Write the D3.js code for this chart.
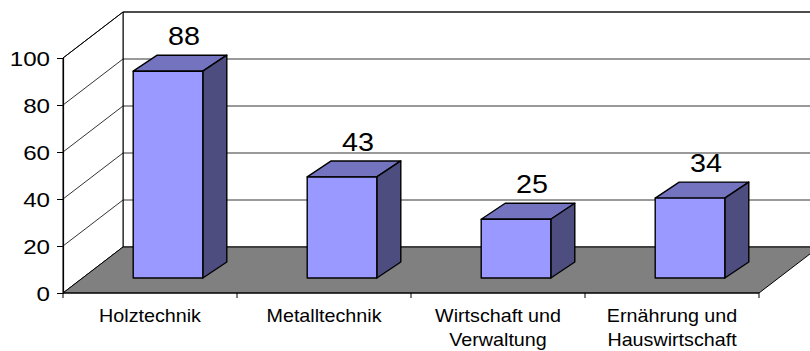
<!DOCTYPE html>
<html>
<head>
<meta charset="utf-8">
<script src="https://cdn.jsdelivr.net/npm/d3@7"></script>
<style>
  html, body { margin: 0; padding: 0; background: #fff; }
  svg { display: block; }
  text { font-family: "Liberation Sans", Arial, sans-serif; fill: #000; }
</style>
</head>
<body>
<svg id="chart" width="810" height="351"></svg>
<script>
// Data
const categories = ["Holztechnik", "Metalltechnik", "Wirtschaft und Verwaltung", "Ernährung und Hauswirtschaft"];
const values = [88, 43, 25, 34];
const yTicks = [0, 20, 40, 60, 80, 100];

const W = 810, H = 351;
const svg = d3.select("#chart");

// Oblique 3D layout: front plane scales plus depth offsets
const x = d3.scaleBand().domain(categories).range([63, 759]).paddingInner(0).paddingOuter(0);
const y = d3.scaleLinear().domain([0, 100]).range([293, 58]);
const wallDepth = [60, -46];   // front edge -> back wall
const barFront = [18, -15];    // front face of the bars inside the floor
const barDepth = [24, -16];    // thickness of each bar
const barFrac = 0.4;
const textStretch = 1.15;

const x0 = x.range()[0], x1 = x.range()[1];
const yMin = y(0), yMax = y(100);
const pt = p => p.join(",");
const poly = pts => pts.map(pt).join(" ");

// Back wall
svg.append("polygon")
  .attr("points", poly([[x0 + wallDepth[0], yMax + wallDepth[1]], [x1 + wallDepth[0], yMax + wallDepth[1]],
                        [x1 + wallDepth[0], yMin + wallDepth[1]], [x0 + wallDepth[0], yMin + wallDepth[1]]]))
  .attr("fill", "#fff").attr("stroke", "#000").attr("stroke-width", 1);

// Left wall
svg.append("polygon")
  .attr("points", poly([[x0, yMax], [x0 + wallDepth[0], yMax + wallDepth[1]],
                        [x0 + wallDepth[0], yMin + wallDepth[1]], [x0, yMin]]))
  .attr("fill", "#fff").attr("stroke", "#000").attr("stroke-width", 1);

// Gridlines on back and left walls
const grid = svg.append("g").attr("stroke", "#000").attr("stroke-width", 0.8);
yTicks.filter(v => v > 0).forEach(v => {
  const yb = y(v) + wallDepth[1];
  grid.append("line")
    .attr("x1", x0 + wallDepth[0]).attr("x2", W + 20)
    .attr("y1", yb).attr("y2", yb);
  grid.append("line")
    .attr("x1", x0).attr("y1", y(v))
    .attr("x2", x0 + wallDepth[0]).attr("y2", yb);
});

// Floor
svg.append("polygon")
  .attr("points", poly([[x0, yMin], [x1, yMin], [x1 + wallDepth[0], yMin + wallDepth[1]], [x0 + wallDepth[0], yMin + wallDepth[1]]]))
  .attr("fill", "#808080").attr("stroke", "#000").attr("stroke-width", 1);

// Bars
const bars = svg.append("g").attr("stroke", "#000").attr("stroke-width", 1.4).attr("stroke-linejoin", "round");
categories.forEach((c, i) => {
  const v = values[i];
  const bw = x.bandwidth() * barFrac;
  const cx = x(c) + x.bandwidth() / 2 + barFront[0];
  const l = cx - bw / 2, r = cx + bw / 2;
  const b = y(0) + barFront[1], t = y(v) + barFront[1];
  const [dx, dy] = barDepth;
  // top
  bars.append("polygon").attr("fill", "#7373BF")
    .attr("points", poly([[l, t], [l + dx, t + dy], [r + dx, t + dy], [r, t]]));
  // side
  bars.append("polygon").attr("fill", "#4D4D80")
    .attr("points", poly([[r, t], [r + dx, t + dy], [r + dx, b + dy], [r, b]]));
  // front
  bars.append("rect").attr("fill", "#9999FF")
    .attr("x", l).attr("y", t).attr("width", bw).attr("height", b - t);

  // value label above the bar
  svg.append("text")
    .attr("transform", `translate(${x(c) + x.bandwidth() / 2 + 34},${y(v) - 41}) scale(${textStretch},1)`)
    .attr("text-anchor", "middle")
    .attr("font-size", 25)
    .text(v);
});

// Value axis
const yAxis = svg.append("g").attr("transform", `translate(${x0},0)`)
  .call(d3.axisLeft(y).tickValues(yTicks).tickSize(6).tickPadding(0));
yAxis.select(".domain").attr("stroke", "#000").attr("stroke-width", 1.2);
yAxis.selectAll(".tick line").attr("stroke", "#000");
yAxis.selectAll(".tick text")
  .attr("font-family", "'Liberation Sans', Arial, sans-serif")
  .attr("font-size", 21)
  .attr("fill", "#000")
  .attr("x", -13 / textStretch)
  .attr("dy", "0.36em")
  .attr("transform", `scale(${textStretch},1)`);

// Category axis
const xa = svg.append("g");
xa.append("line")
  .attr("x1", x0).attr("x2", x1).attr("y1", yMin).attr("y2", yMin)
  .attr("stroke", "#000").attr("stroke-width", 1.2);
categories.map(c => x(c)).concat([x1]).forEach(px => {
  xa.append("line").attr("x1", px).attr("x2", px).attr("y1", yMin).attr("y2", yMin + 5)
    .attr("stroke", "#000").attr("stroke-width", 1);
});
categories.forEach(c => {
  const lines = c.includes(" und ") ? [c.slice(0, c.indexOf(" und ") + 4), c.slice(c.indexOf(" und ") + 5)] : [c];
  lines.forEach((ln, k) => {
    xa.append("text")
      .attr("transform", `translate(${x(c) + x.bandwidth() / 2},${322 + k * 23.5}) scale(${textStretch * 0.98},1)`)
      .attr("text-anchor", "middle")
      .attr("font-size", 17.5)
      .text(ln);
  });
});
</script>
</body>
</html>
